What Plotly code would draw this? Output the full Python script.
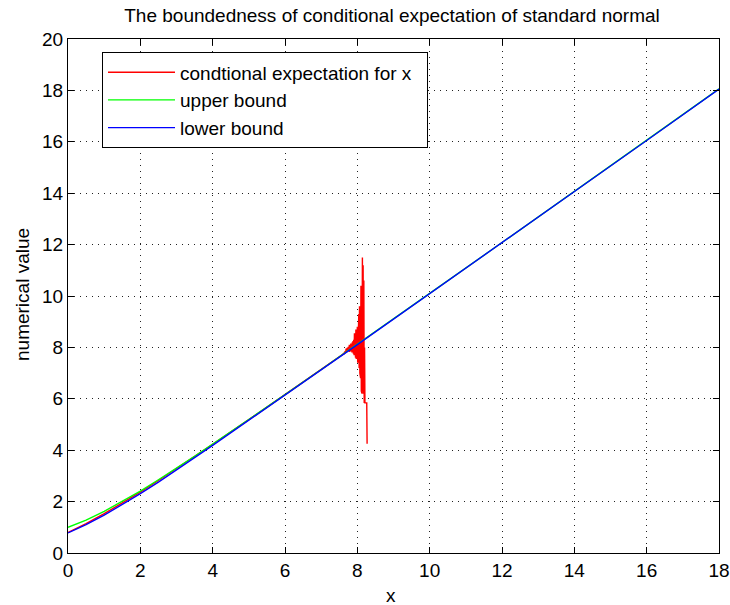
import plotly.graph_objects as go

# smooth curves
x_smooth = [0, 0.5, 1, 1.5, 2, 2.5, 3, 3.5, 4, 5, 6, 7, 8, 9, 10, 12, 14, 16, 18]
upper_bound = [1.00, 1.28, 1.62, 2.00, 2.41, 2.85, 3.30, 3.76, 4.24, 5.19, 6.16, 7.14,
               8.12, 9.11, 10.10, 12.08, 14.07, 16.06, 18.06]
lower_bound = [0.78, 1.10, 1.47, 1.88, 2.31, 2.76, 3.23, 3.71, 4.19, 5.17, 6.14, 7.13,
               8.11, 9.10, 10.09, 12.07, 14.06, 16.05, 18.05]

# conditional expectation (numerically unstable near x = 8)
cond_x = [0, 0.5, 1, 1.5, 2, 2.5, 3, 3.5, 4, 5, 6, 7, 7.5,
          7.60, 7.61, 7.62, 7.63, 7.64, 7.65, 7.66, 7.67, 7.68, 7.69,
          7.70, 7.71, 7.72, 7.73, 7.74, 7.75, 7.76, 7.77, 7.78, 7.79,
          7.80, 7.81, 7.82, 7.83, 7.84, 7.85, 7.86, 7.87, 7.88, 7.89,
          7.90, 7.91, 7.92, 7.93, 7.94, 7.95, 7.96, 7.97, 7.98, 7.99,
          8.00, 8.01, 8.02, 8.03, 8.04, 8.05, 8.06, 8.07, 8.08, 8.09,
          8.10, 8.11, 8.12, 8.13, 8.14, 8.15, 8.16, 8.17, 8.18, 8.19,
          8.20, 8.21, 8.26, 8.27]
cond_y = [0.80, 1.14, 1.53, 1.94, 2.37, 2.82, 3.28, 3.75, 4.23, 5.19, 6.16, 7.14, 7.63,
          7.73, 7.76, 7.72, 7.80, 7.75, 7.78, 7.86, 7.79, 7.84, 7.95,
          7.80, 7.88, 7.98, 7.82, 7.95, 8.02, 7.85, 7.98, 8.10, 7.82,
          8.05, 7.85, 8.15, 7.88, 8.10, 7.80, 8.20, 7.85, 8.25, 7.75,
          8.30, 7.70, 8.55, 7.80, 8.45, 7.60, 8.70, 7.55, 8.60, 7.90,
          8.80, 7.40, 9.00, 7.50, 9.30, 7.20, 9.60, 7.00, 9.90, 6.80,
          10.40, 6.30, 10.80, 6.20, 11.50, 6.60, 11.20, 6.20, 10.60, 5.84,
          8.00, 5.84, 5.84, 4.25]

x_ticks = [0, 2, 4, 6, 8, 10, 12, 14, 16, 18]
y_ticks = [0, 2, 4, 6, 8, 10, 12, 14, 16, 18, 20]

FONT = "Liberation Sans, Arial, sans-serif"

fig = go.Figure()
fig.add_trace(go.Scatter(x=cond_x, y=cond_y, mode="lines",
                         name="condtional expectation for x\u00a0\u00a0",
                         line=dict(color="#ff0000", width=1.4)))
fig.add_trace(go.Scatter(x=x_smooth, y=upper_bound, mode="lines",
                         name="upper bound",
                         line=dict(color="#00ff00", width=1.4)))
fig.add_trace(go.Scatter(x=x_smooth, y=lower_bound, mode="lines",
                         name="lower bound",
                         line=dict(color="#0000ff", width=1.4)))

axis_common = dict(
    showline=True, linecolor="#000000", linewidth=1, mirror="allticks",
    ticks="inside", ticklen=6, tickwidth=1, tickcolor="#000000",
    showgrid=True, gridcolor="#222222", gridwidth=1, griddash="1px,5px",
    zeroline=False, automargin=False,
    tickfont=dict(family=FONT, size=19, color="#000000"),
)

fig.update_xaxes(range=[0, 18], tickvals=x_ticks, ticktext=[str(v) for v in x_ticks],
                 **axis_common)
fig.update_yaxes(range=[0, 20], tickvals=y_ticks, ticktext=[str(v) for v in y_ticks],
                 **axis_common)

title_font = dict(family=FONT, size=19, color="#000000")
fig.add_annotation(text="x", xref="paper", yref="paper",
                   x=(391 - 68) / 651, y=-(595 - 553) / 514,
                   xanchor="center", yanchor="middle", showarrow=False, font=title_font)
fig.add_annotation(text="numerical value", xref="paper", yref="paper", textangle=-90,
                   x=-(68 - 22) / 651, y=(553 - 295) / 514,
                   xanchor="center", yanchor="middle", showarrow=False, font=title_font)

fig.update_layout(
    width=730, height=605,
    margin=dict(l=68, r=11, t=39, b=52, autoexpand=False),
    paper_bgcolor="#ffffff", plot_bgcolor="#ffffff",
    title=dict(text="The boundedness of conditional expectation of standard normal",
               font=title_font,
               x=392 / 730, xanchor="center", y=1 - 15 / 605, yanchor="middle", yref="container"),
    legend=dict(x=(102 - 68) / 651, y=0.974, xanchor="left", yanchor="top",
                bgcolor="#ffffff", bordercolor="#000000", borderwidth=1,
                font=dict(family=FONT, size=19, color="#000000"),
                itemwidth=67),
    showlegend=True,
)

fig.write_html("out.html",
               config={"displayModeBar": False, "staticPlot": True},
               post_script="document.body.style.margin='0';"
                           "document.body.style.overflow='hidden';")
